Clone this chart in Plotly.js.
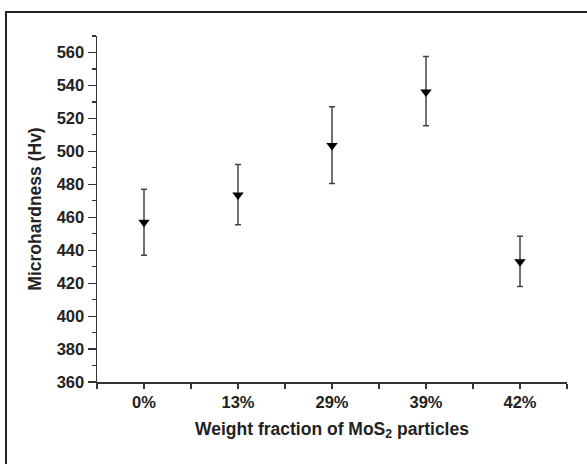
<!DOCTYPE html>
<html>
<head>
<meta charset="utf-8">
<script src="https://cdn.plot.ly/plotly-3.0.1.min.js"></script>
<style>
html,body{margin:0;padding:0;background:#fff;}
#wrap{position:relative;width:587px;height:464px;overflow:hidden;}
#frame{position:absolute;left:5px;top:11px;width:600px;height:470px;border-left:2px solid #222;border-top:2px solid #222;pointer-events:none;z-index:2;}
#chart{position:absolute;left:0;top:0;width:587px;height:464px;}
</style>
</head>
<body>
<div id="wrap">
<div id="chart"></div>
<div id="frame"></div>
</div>
<script>
const categories = ["0%", "13%", "29%", "39%", "42%"];
const hardness = [457, 473.5, 503.5, 536, 433];
const errPlus = [20, 18.5, 23.5, 21.5, 15.5];
const errMinus = [20, 18, 23, 20.5, 15];

const xIdx = categories.map((c, i) => i);

const trace = {
  x: xIdx,
  y: hardness,
  type: 'scatter',
  mode: 'markers',
  marker: {symbol: 'triangle-down', size: 10, color: '#000'},
  error_y: {
    type: 'data', symmetric: false,
    array: errPlus, arrayminus: errMinus,
    color: '#444', thickness: 1.5, width: 3
  },
  showlegend: false,
  hoverinfo: 'skip'
};

const fam = 'Liberation Sans, Arial, sans-serif';
const tickFont = {family: fam, size: 16.5, color: '#222', weight: 'bold'};

const layout = {
  width: 587, height: 464,
  margin: {l: 97, r: 20, t: 36, b: 82},
  paper_bgcolor: 'rgba(0,0,0,0)',
  plot_bgcolor: 'rgba(0,0,0,0)',
  xaxis: {
    range: [-0.5, 4.5],
    tickvals: xIdx, ticktext: categories,
    showgrid: false, zeroline: false,
    showline: true, linecolor: '#333', linewidth: 1.5,
    ticks: 'outside', ticklen: 5, tickwidth: 1.2, tickcolor: '#333',
    minor: {tick0: -0.5, dtick: 0.5, ticks: 'outside', ticklen: 5, tickwidth: 1.2, tickcolor: '#333'},
    tickfont: tickFont,
    title: {text: '<b>Weight fraction of MoS<sub>2</sub> particles</b>', font: {family: fam, size: 17.5, color: '#222'}, standoff: 12}
  },
  yaxis: {
    range: [360, 570],
    dtick: 20, tick0: 360,
    showgrid: false, zeroline: false,
    showline: true, linecolor: '#333', linewidth: 1.5,
    ticks: 'outside', ticklen: 8, tickwidth: 1.2, tickcolor: '#333',
    minor: {dtick: 10, ticks: 'outside', ticklen: 4, tickwidth: 1.2, tickcolor: '#333'},
    tickfont: tickFont,
    title: {text: '<b>Microhardness (Hv)</b>', font: {family: fam, size: 17.5, color: '#222'}, standoff: 10}
  }
};

Plotly.newPlot('chart', [trace], layout, {displayModeBar: false, staticPlot: true});
</script>
</body>
</html>
